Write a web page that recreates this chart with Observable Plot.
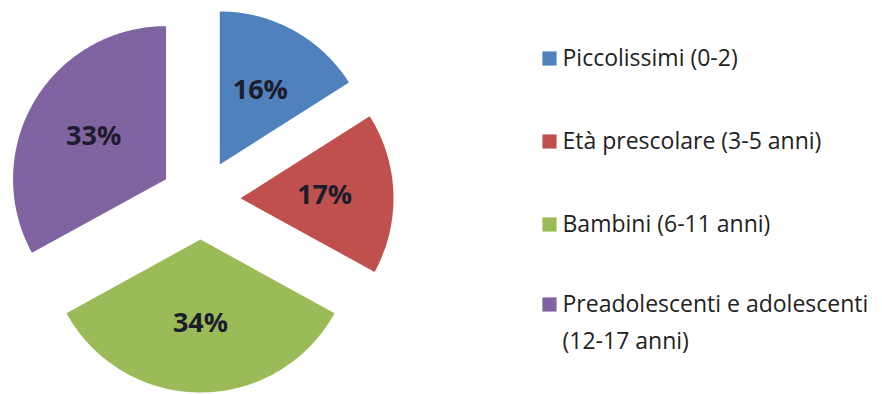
<!DOCTYPE html>
<html>
<head>
<meta charset="utf-8">
<script src="https://cdn.jsdelivr.net/npm/d3@7"></script>
<script src="https://cdn.jsdelivr.net/npm/@observablehq/plot@0.6"></script>
<style>
  html, body { margin: 0; padding: 0; background: #fff; }
  #chart svg { display: block; }
</style>
</head>
<body>
<div id="chart"></div>
<script>
// ---- Data ----
const categories = ["Piccolissimi (0-2)", "Età prescolare (3-5 anni)", "Bambini (6-11 anni)", "Preadolescenti e adolescenti\n(12-17 anni)"];
const shares = [16, 17, 34, 33];
const colors = ["#4F81BD", "#C0504D", "#9BBB59", "#8064A2"];

// ---- Layout ----
const W = 882, H = 394;
const cx = 200, cy = 199, R = 153, explode = 40, labelFrac = 0.55;
const legendX = 549, legendTextX = 562, legendTop = 58, legendStep = 83, legendLine = 37;

const total = d3.sum(shares);
const pie = d3.pie().sort(null).value(d => d)(shares);

const slicePts = [];
const labels = [];
pie.forEach((p, i) => {
  const mid = (p.startAngle + p.endAngle) / 2;
  const tx = cx + explode * Math.sin(mid), ty = cy - explode * Math.cos(mid);
  slicePts.push({cat: categories[i], x: tx, y: ty});
  const n = Math.max(8, Math.ceil((p.endAngle - p.startAngle) / (Math.PI / 180)));
  for (let k = 0; k <= n; k++) {
    const a = p.startAngle + (p.endAngle - p.startAngle) * k / n;
    slicePts.push({cat: categories[i], x: tx + R * Math.sin(a), y: ty - R * Math.cos(a)});
  }
  slicePts.push({cat: categories[i], x: tx, y: ty});
  labels.push({
    text: Math.round(100 * shares[i] / total) + "%",
    x: tx + labelFrac * R * Math.sin(mid),
    y: ty - labelFrac * R * Math.cos(mid)
  });
});

const legendKeys = categories.map((c, i) => ({cat: c, x: legendX, y: legendTop + i * legendStep - (i === 3 ? 3 : 0)}));
const legendLines = [];
legendKeys.forEach(k => {
  k.cat.split("\n").forEach((line, j) => legendLines.push({text: line, x: legendTextX, y: k.y + j * legendLine}));
});

const chart = Plot.plot({
  width: W,
  height: H,
  margin: 0,
  x: {domain: [0, W], range: [0, W], axis: null},
  y: {domain: [0, H], range: [0, H], axis: null},
  color: {domain: categories, range: colors},
  style: {background: "#fff"},
  marks: [
    Plot.line(slicePts, {x: "x", y: "y", z: "cat", fill: "cat", stroke: null, curve: "linear"}),
    Plot.text(labels, {x: "x", y: "y", text: "text", fontSize: 27, fontWeight: "bold",
      fontFamily: "'Open Sans', sans-serif", fill: "#1c1c2c"}),
    Plot.dot(legendKeys, {x: "x", y: "y", symbol: "square", r: 8, fill: "cat", stroke: null}),
    Plot.text(legendLines, {x: "x", y: "y", text: "text", textAnchor: "start", lineAnchor: "middle",
      fontSize: 23, fontFamily: "'Open Sans', sans-serif", fill: "#222"})
  ]
});
document.getElementById("chart").appendChild(chart);
</script>
</body>
</html>
